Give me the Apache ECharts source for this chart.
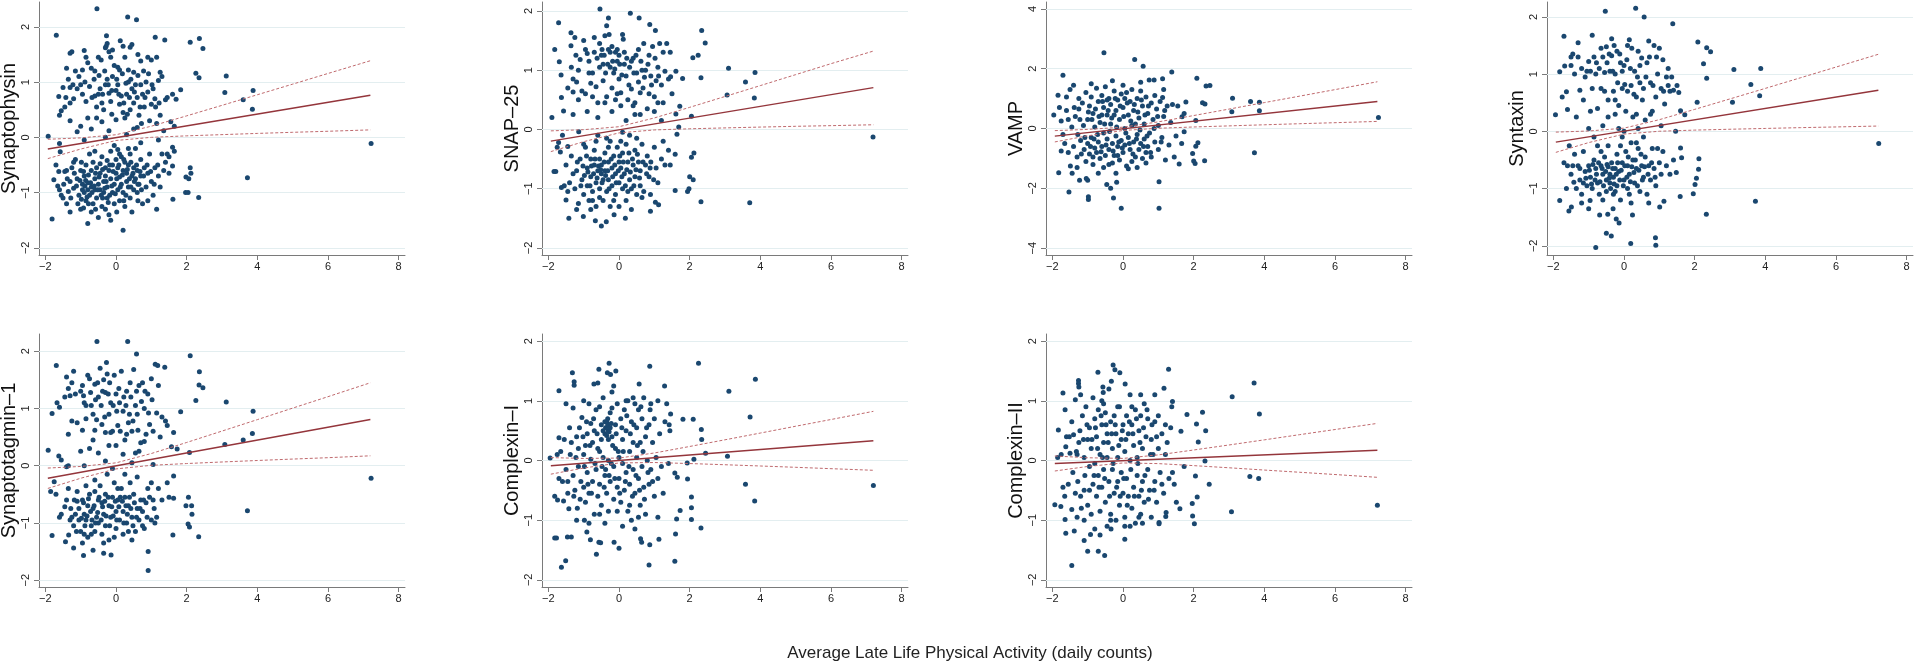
<!DOCTYPE html>
<html>
<head>
<meta charset="utf-8">
<title>Synaptic proteins vs late life physical activity</title>
<script src="https://cdn.jsdelivr.net/npm/echarts@6/dist/echarts.min.js"></script>
<style>html,body{margin:0;padding:0;background:#fff;}</style>
</head>
<body>
<div id="main" style="width:1920px;height:663px;"></div>
<script>
// tick labels
var xTicks = [-2, 0, 2, 4, 6, 8];
var yTicks2 = [-2, -1, 0, 1, 2];
var yTicks4 = [-4, -2, 0, 2, 4];

var xTitle = 'Average Late Life Physical Activity (daily counts)';
var names = ['Synaptophysin', 'SNAP–25', 'VAMP', 'Syntaxin', 'Synaptotagmin–1', 'Complexin–I', 'Complexin–II'];

// x positions where the fit / confidence lines were read
var fitX = [-1.93, 7.2];
var ciX = [-1.93, -1, 0, 1, 2, 3, 4, 5, 6, 7.2];

// fitted line (y at fitX) and CI bounds (y at ciX), one per panel
var fitY = [
  [-0.21, 0.761], [-0.198, 0.705], [-0.255, 0.899], [-0.188, 0.719],
  [-0.222, 0.807], [-0.089, 0.33], [-0.05, 0.171]
];
var ciUpper = [
  [-0.035, -0.01, 0.047, 0.202, 0.389, 0.579, 0.771, 0.963, 1.156, 1.387],
  [-0.025, -0.005, 0.045, 0.193, 0.372, 0.555, 0.739, 0.924, 1.109, 1.322],
  [-0.071, -0.03, 0.044, 0.222, 0.433, 0.649, 0.866, 1.082, 1.3, 1.563],
  [-0.013, 0.006, 0.056, 0.204, 0.384, 0.567, 0.751, 0.937, 1.123, 1.347],
  [-0.042, -0.014, 0.049, 0.212, 0.405, 0.604, 0.804, 1.005, 1.205, 1.448],
  [0.049, 0.034, 0.041, 0.126, 0.235, 0.347, 0.46, 0.574, 0.687, 0.824],
  [0.076, 0.046, 0.035, 0.094, 0.176, 0.26, 0.346, 0.433, 0.519, 0.622]
];
var ciLower = [
  [-0.385, -0.212, -0.057, 0.0, 0.027, 0.049, 0.071, 0.091, 0.11, 0.135],
  [-0.375, -0.207, -0.059, -0.009, 0.01, 0.025, 0.039, 0.052, 0.063, 0.078],
  [-0.449, -0.244, -0.066, 0.008, 0.051, 0.087, 0.124, 0.16, 0.194, 0.237],
  [-0.367, -0.196, -0.048, 0.002, 0.022, 0.037, 0.051, 0.065, 0.077, 0.093],
  [-0.398, -0.22, -0.057, 0.006, 0.037, 0.064, 0.09, 0.115, 0.139, 0.172],
  [-0.229, -0.126, -0.041, -0.034, -0.051, -0.071, -0.092, -0.114, -0.137, -0.164],
  [-0.176, -0.1, -0.041, -0.052, -0.086, -0.122, -0.16, -0.197, -0.235, -0.282]
];

// scatter points [activity, protein]
var synaptophysin = [
[-1.69,1.85],[-0.54,2.33],[0.33,2.18],[0.58,2.13],[-0.27,1.84],[1.11,1.81],[1.38,1.76],[0.12,1.75],[2.10,1.72],[2.36,1.79],[2.46,1.61],
[-1.3,1.52],[-1.25,1.55],[-1.4,1.25],[-1.35,1.05],[-1.3,0.9],[-1.15,1.2],[-0.9,1.57],[-0.95,1.22],[-0.8,1.35],[-0.7,1.25],[-0.6,1.2],[-0.5,1.45],[-0.42,1.4],[-0.3,1.62],[-0.28,1.65],[-0.25,1.7],[-0.2,1.55],[-0.1,1.58],[0.05,1.27],[0.1,1.22],[0.2,1.65],[0.4,1.63],[0.45,1.68],[0.35,1.22],[0.5,1.18],[0.7,1.38],[0.9,1.45],[1.0,1.4],[1.15,1.45],[1.2,1.03],[1.25,1.18],[1.3,1.1],[1.4,0.68],[1.45,0.72],[1.6,0.78],[1.7,0.69],
[-1.55,0.48],[-1.6,0.4],[-1.62,0.74],[-1.5,0.9],[-1.3,0.62],[-1.2,0.7],[-1.1,0.88],[-1.0,0.95],[-0.95,0.78],[-0.85,0.65],[-0.8,0.35],[-0.7,0.15],[-0.6,0.75],[-0.55,0.55],[-0.5,0.78],[-0.45,0.88],[-0.4,0.62],[-0.35,0.5],[-0.3,0.95],[-0.25,1.05],[-0.2,0.8],[-0.15,0.65],[-0.1,1.1],[0.0,0.85],[0.05,0.95],[0.1,0.6],[0.15,0.75],[0.2,0.45],[0.25,0.35],[0.3,0.78],[0.35,1.0],[0.4,0.5],[0.45,0.88],[0.5,0.62],[0.55,0.95],[0.6,0.72],[0.65,0.4],[0.7,0.95],[0.75,0.78],[0.8,0.55],[0.85,1.0],[0.9,0.82],[0.95,0.3],[1.0,0.6],[1.05,0.88],[1.1,0.7],[1.15,0.25],[1.25,0.4],[1.35,0.12],[-1.0,0.2],[-1.1,0.1],[-1.3,0.3],[-0.4,0.28],[0.0,0.32],[0.6,0.18],[1.65,0.2],[1.55,0.28],[0.5,0.15],[-0.2,0.12],
[-1.05,1.1],[-0.88,1.0],[-0.75,0.92],[-0.68,0.72],[-0.62,1.05],[-0.48,1.12],[-0.38,0.78],[-0.32,1.2],[-0.22,0.95],[-0.12,0.85],[-0.05,1.3],[0.02,1.05],[0.08,0.78],[0.18,1.15],[0.22,0.62],[0.28,0.98],[0.38,0.72],[0.42,1.05],[0.52,0.82],[0.62,1.12],[0.68,0.55],[0.78,1.2],[0.82,0.72],[0.92,1.15],[1.02,0.95],[1.12,0.55],[-0.55,0.35],[-0.12,0.42],[0.32,0.42],[0.72,0.25],[-1.42,0.72],[-1.22,0.95],[-0.85,1.45],[-0.15,1.45],[0.25,1.45],[0.62,1.5],[1.22,0.62],[-1.45,0.55],
[1.83,0.86],[2.26,1.16],[2.35,1.08],[3.12,1.11],[3.08,0.81],[3.6,0.68],[3.88,0.85],[3.86,0.51],
[-1.92,0.02],[-1.6,-0.11],[-1.58,-0.26],[-0.9,-0.05],[-0.3,0.0],[0.3,0.05],[0.7,-0.1],[1.2,-0.05],[1.6,-0.18],[1.45,-0.3],
[7.22,-0.11],[3.72,-0.73],[2.34,-1.09],[1.97,-1.0],[2.04,-1.0],[1.98,-0.72],[2.06,-0.75],[2.1,-0.55],[2.12,-0.65],[1.61,-1.12],[-1.81,-1.48],[-0.8,-1.56],[0.2,-1.68],
[-1.76,-0.77],[-1.7,-0.5],[-1.65,-0.88],[-1.55,-1.05],[-1.5,-1.1],[-1.45,-0.62],[-1.4,-1.2],[-1.35,-0.98],[-1.3,-0.8],[-1.3,-1.35],[-1.25,-0.55],[-1.2,-0.92],[-1.15,-0.4],[-1.1,-0.75],[-1.05,-1.05],[-1.0,-0.6],[-1.0,-1.3],[-0.95,-0.85],[-0.95,-0.95],[-0.9,-0.7],[-0.9,-1.0],[-0.88,-0.88],[-0.85,-0.5],[-0.85,-1.15],[-0.8,-0.82],[-0.8,-0.95],[-0.75,-0.3],[-0.75,-1.05],[-0.7,-0.6],[-0.7,-0.9],[-0.65,-0.45],[-0.65,-1.2],[-0.6,-0.75],[-0.6,-0.95],[-0.55,-0.55],[-0.55,-1.1],[-0.5,-0.85],[-0.5,-1.45],[-0.45,-0.65],[-0.45,-0.95],[-0.4,-0.35],[-0.4,-1.25],[-0.35,-0.8],[-0.35,-1.0],[-0.3,-0.55],[-0.3,-0.7],[-0.25,-0.9],[-0.25,-1.1],[-0.2,-0.6],[-0.2,-1.4],[-0.15,-0.75],[-0.15,-0.25],[-0.1,-1.0],[-0.1,-0.5],[-0.05,-0.85],[-0.05,-1.2],[0.0,-0.65],[0.0,-0.4],[0.05,-0.95],[0.05,-0.55],[0.1,-0.72],[0.1,-1.15],[0.15,-0.35],[0.15,-0.85],[0.2,-0.6],[0.2,-1.0],[0.25,-0.45],[0.25,-1.25],[0.3,-0.8],[0.3,-0.65],[0.35,-0.5],[0.35,-0.9],[0.4,-0.3],[0.4,-1.1],[0.45,-0.7],[0.5,-0.55],[0.5,-0.95],[0.55,-0.2],[0.55,-0.75],[0.6,-0.6],[0.6,-1.0],[0.65,-0.85],[0.7,-0.4],[0.7,-0.7],[0.75,-1.2],[0.8,-0.55],[0.85,-0.9],[0.9,-0.65],[0.95,-0.3],[1.0,-0.8],[1.05,-1.05],[1.1,-0.55],[1.15,-1.3],[1.2,-0.7],[1.25,-0.9],[1.35,-0.6],[1.4,-0.45],[1.5,-0.65],[1.5,-0.35],[1.6,-0.52],[1.65,-0.25],
[-1.6,-0.95],[-1.2,-0.45],[-0.92,-1.28],[-0.6,-0.25],[-0.3,-1.3],[0.1,-0.3],[0.45,-1.35],[0.9,-1.15],[1.3,-0.3],[-1.4,-0.6],[-0.7,-1.35],[-0.15,-1.5],[-0.05,-0.15],[0.35,-0.2],
[-1.12,-0.88],[-1.02,-0.78],[-0.98,-1.12],[-0.92,-0.62],[-0.86,-0.78],[-0.82,-1.08],[-0.78,-0.68],[-0.72,-0.82],[-0.68,-1.0],[-0.62,-0.88],[-0.58,-0.65],[-0.52,-0.95],[-0.48,-0.72],[-0.42,-1.05],[-0.38,-0.58],[-0.32,-0.92],[-0.28,-0.8],[-0.22,-1.18],[-0.18,-0.5],[-0.12,-0.88],[-0.08,-0.62],[-0.02,-1.02],[0.02,-0.75],[0.08,-0.5],[0.12,-0.9],[0.18,-0.68],[0.22,-0.4],[0.28,-1.05],[0.32,-0.58],[0.38,-0.75],[0.42,-0.9],[0.48,-0.65],[0.52,-0.8],[0.58,-0.5],[0.62,-0.85],[0.68,-0.62],[0.72,-0.95],[0.78,-0.7],[0.88,-0.5],[0.98,-0.62],[1.08,-0.85],[1.18,-0.5],[-1.48,-0.85],[-1.38,-0.75],[-1.28,-1.1],[-1.18,-0.65],[-1.08,-1.2],[-0.98,-0.45],[-0.78,-1.2],[-0.58,-1.3],[-0.38,-1.1],[-0.18,-1.05],[0.02,-1.35],[0.22,-1.15],[0.42,-0.45],[0.62,-1.15],[-1.62,-0.62],[-0.45,-0.48],[-0.25,-0.42],[0.05,-0.22]
];

var snap25 = [
[-1.82,1.35],[-1.71,1.8],[-1.69,1.14],[-1.64,0.92],[-1.63,0.54],[-1.57,0.31],[-1.36,1.63],[-1.36,1.41],[-1.25,1.55],[-1.35,1.05],[-1.3,0.85],[-1.3,0.63],[-1.2,0.8],[-1.15,1.0],[-1.1,1.18],[-1.05,0.65],[-1.0,1.5],[-0.95,1.35],[-0.9,1.28],[-0.85,1.15],[-0.8,0.78],[-0.75,0.55],[-0.7,1.3],[-0.65,0.72],[-0.6,0.45],[-0.55,1.45],[-0.5,1.25],[-0.45,1.1],[-0.45,0.82],[-0.4,1.58],[-0.35,1.75],[-0.3,1.35],[-0.28,1.6],[-0.25,1.05],[-0.2,1.4],[-0.2,0.7],[-0.15,0.95],[-0.1,1.3],[-0.1,0.5],[-0.05,1.15],[0.0,0.85],[0.0,1.25],[0.05,0.62],[0.1,1.6],[0.12,1.52],[0.15,1.1],[0.2,0.9],[0.25,0.5],[0.3,1.05],[0.35,0.68],[0.4,1.2],[0.45,0.45],[0.5,0.95],[0.55,1.35],[0.6,0.62],[0.65,1.0],[0.7,1.45],[0.72,0.88],[0.8,0.35],[0.85,1.25],[0.9,0.9],[0.95,1.4],[1.0,0.55],[1.05,0.82],[1.1,1.05],[1.15,1.45],[1.2,0.75],[1.25,0.45],[1.3,0.98],[1.35,1.45],[1.4,0.85],[1.5,0.6],
[-0.62,1.2],[-0.55,1.05],[-0.48,1.35],[-0.42,1.25],[-0.38,0.95],[-0.32,1.1],[-0.25,1.3],[-0.18,1.15],[-0.12,1.02],[-0.05,1.35],[0.02,1.1],[0.08,0.92],[0.15,1.3],[0.22,1.2],[0.28,0.75],[0.35,1.15],[0.42,0.95],[0.48,1.25],[0.55,0.8],[0.62,1.15],[0.68,0.7],[0.75,1.0],[0.82,1.1],[0.92,0.75],[1.02,1.2],[1.12,0.9],[1.25,1.3],[-0.85,0.95],[-0.95,0.6],[-1.15,0.5],[-0.35,0.55],[0.05,0.4],[0.45,0.25],[-1.45,0.7],[-1.22,1.25],[-0.7,1.55],[1.45,1.3],[1.1,0.45],
[-0.54,2.03],[-0.3,1.88],[0.32,1.96],[0.57,1.88],[0.87,1.77],[1.03,1.67],[2.34,1.67],[2.44,1.46],[2.09,1.21],[2.24,1.25],[2.32,0.87],[3.1,1.03],[3.58,0.8],[3.85,0.96],[3.83,0.53],[3.06,0.58],[2.05,0.22],[1.61,0.26],[1.72,0.39],[1.8,0.86],[1.61,0.98],[1.46,0.89],[-0.9,0.3],[-0.6,0.2],[-0.2,0.3],[0.2,0.15],[0.6,0.25],[1.0,0.3],[-1.3,0.25],[0.4,0.4],[-0.4,0.45],[-0.75,0.95],[-1.9,0.2],[1.2,0.15],[0.85,0.6],[-0.05,0.6],
[7.19,-0.13],[3.7,-1.24],[2.32,-1.22],[2.0,-0.8],[2.1,-0.85],[2.05,-0.47],[2.12,-0.4],[1.98,-1.0],[1.94,-1.05],[1.59,-1.03],[0.89,-1.38],[0.89,-1.1],[1.12,-1.27],[1.03,-1.23],[-0.5,-1.63],[-1.42,-1.5],[-1.01,-1.47],[-0.67,-1.54],[-0.36,-1.56],[0.18,-1.5],[-0.14,-1.44],[-1.5,-1.19],[-1.84,-0.71],[-1.79,-0.71],[-1.63,-0.98],[-1.71,-0.22],[-1.66,-0.38],[-1.45,-0.29],[-1.14,-0.04],[1.64,-0.08],[1.59,-0.42],[1.69,0.04],
[-1.5,-0.6],[-1.4,-0.9],[-1.35,-0.45],[-1.25,-1.0],[-1.2,-0.7],[-1.15,-1.25],[-1.1,-0.5],[-1.05,-0.85],[-1.0,-1.1],[-0.95,-0.3],[-0.9,-0.65],[-0.9,-0.95],[-0.85,-1.2],[-0.8,-0.5],[-0.8,-0.8],[-0.75,-1.05],[-0.7,-0.6],[-0.7,-0.35],[-0.65,-0.9],[-0.65,-1.3],[-0.6,-0.7],[-0.55,-0.5],[-0.55,-1.0],[-0.5,-0.75],[-0.5,-0.6],[-0.45,-0.85],[-0.45,-1.2],[-0.4,-0.4],[-0.4,-0.7],[-0.35,-1.05],[-0.3,-0.55],[-0.3,-0.85],[-0.25,-0.2],[-0.25,-1.3],[-0.2,-0.65],[-0.2,-0.95],[-0.15,-0.45],[-0.1,-0.75],[-0.1,-1.1],[-0.05,-0.3],[0.0,-0.55],[0.0,-0.9],[0.05,-0.65],[0.1,-1.0],[0.1,-0.4],[0.15,-0.75],[0.2,-0.25],[0.2,-1.2],[0.25,-0.55],[0.3,-0.85],[0.3,-0.1],[0.35,-1.0],[0.4,-0.6],[0.45,-0.35],[0.45,-0.8],[0.5,-1.1],[0.55,-0.55],[0.6,-0.7],[0.6,-0.95],[0.65,-0.25],[0.7,-1.05],[0.75,-0.6],[0.8,-0.45],[0.85,-0.8],[0.9,-0.55],[1.0,-0.3],[1.05,-0.65],[1.1,-0.9],[1.2,-0.5],[1.25,-0.2],[1.3,-0.6],[1.4,-0.35],[1.45,-0.6],[-1.6,-0.1],[-1.0,-0.25],[-0.6,-0.1],[0.1,-0.05],[0.5,-0.15],[-0.35,-0.15],[-1.2,-1.35],[-0.8,-1.35],[0.0,-1.3],[0.35,-1.35],[-1.75,-0.3],[-1.55,-0.95],
[-1.02,-0.62],[-0.98,-0.78],[-0.92,-0.45],[-0.88,-0.72],[-0.82,-0.95],[-0.78,-0.62],[-0.72,-0.75],[-0.68,-0.5],[-0.62,-0.82],[-0.58,-0.62],[-0.52,-0.68],[-0.48,-0.9],[-0.42,-0.55],[-0.38,-0.78],[-0.32,-0.7],[-0.28,-1.0],[-0.22,-0.5],[-0.18,-0.8],[-0.12,-0.6],[-0.08,-0.9],[-0.02,-0.7],[0.02,-0.45],[0.08,-0.8],[0.12,-0.55],[0.18,-0.95],[0.22,-0.68],[0.28,-0.4],[0.32,-0.72],[0.38,-0.5],[0.42,-0.95],[0.48,-0.68],[0.52,-0.42],[0.58,-0.82],[0.68,-0.55],[0.78,-0.75],[0.88,-0.65],[0.98,-0.85],[-1.3,-0.75],[-1.18,-0.55],[-1.08,-0.95],[-0.75,-1.2],[-0.55,-1.15],[-0.15,-1.2],[0.25,-1.05],[0.65,-1.15],[-1.45,-1.05],[-0.3,-0.3],[0.05,-0.2],[-0.65,-0.2]
];

var vamp = [
[-1.96,0.45],[-1.84,1.11],[-1.7,1.78],[-1.82,-1.48],[-1.53,-2.12],[-0.54,2.53],[0.33,2.31],[0.57,2.08],[1.38,1.89],[2.09,1.68],[2.35,1.42],[2.46,1.44],[2.25,0.86],[2.32,0.82],[2.06,0.27],[3.1,1.01],[3.08,0.56],[3.61,0.9],[3.86,0.88],[3.86,0.59],[3.72,-0.81],[7.23,0.37],[2.31,-1.08],[2.04,-1.17],[2.0,-1.09],[2.06,-0.59],[2.12,-0.48],[1.97,-0.84],[1.02,-1.78],[1.02,-2.67],[-0.05,-2.67],[-0.27,-2.32],[-0.35,-2.0],[-0.46,-1.87],[-0.98,-2.37],[-0.98,-2.28],[-1.0,-1.73],[-1.04,-1.67],[-0.18,-1.8],[-1.23,-1.73],[-1.44,-1.5],[-1.49,-1.25],[1.45,-0.95],[1.59,-1.19],[1.66,-0.5],[1.73,-0.11],[1.67,0.39],[1.73,0.5],[1.78,0.89],[1.12,1.66],[1.15,1.3],[1.12,1.04],[0.74,1.62],[0.88,1.62],
[-1.8,0.7],[-1.75,0.25],[-1.7,-0.2],[-1.65,-0.5],[-1.6,0.6],[-1.55,-0.8],[-1.5,1.3],[-1.45,0.05],[-1.4,1.45],[-1.4,-0.6],[-1.35,0.4],[-1.3,-0.95],[-1.25,1.0],[-1.2,-0.4],[-1.15,0.85],[-1.1,-0.7],[-1.05,1.2],[-1.05,-1.1],[-1.0,0.3],[-1.0,-0.5],[-0.95,0.75],[-0.95,-0.85],[-0.9,1.05],[-0.9,-0.3],[-0.85,0.5],[-0.85,-0.95],[-0.8,0.05],[-0.8,-0.65],[-0.75,1.35],[-0.75,-0.8],[-0.7,0.9],[-0.7,-0.45],[-0.65,0.2],[-0.65,-1.0],[-0.6,1.1],[-0.6,-0.6],[-0.55,0.7],[-0.55,-0.15],[-0.5,1.4],[-0.5,-0.9],[-0.45,0.45],[-0.45,-0.35],[-0.4,1.0],[-0.4,-1.2],[-0.4,-0.7],[-0.35,0.8],[-0.35,0.15],[-0.3,1.6],[-0.3,-0.5],[-0.25,1.25],[-0.25,-0.9],[-0.2,0.6],[-0.2,-0.25],[-0.15,0.95],[-0.15,-0.6],[-0.1,0.3],[-0.1,-1.05],[-0.05,1.15],[-0.05,-0.4],[0.0,0.7],[0.0,-0.8],[0.05,0.0],[0.05,-0.55],[0.1,1.2],[0.1,-1.25],[0.15,0.45],[0.15,-0.3],[0.2,0.9],[0.2,-0.7],[0.25,1.3],[0.25,0.1],[0.3,-0.45],[0.3,0.6],[0.35,-0.95],[0.4,1.0],[0.4,-0.2],[0.45,0.35],[0.45,-0.7],[0.5,1.25],[0.5,-0.5],[0.55,0.75],[0.55,-1.0],[0.6,0.15],[0.6,-0.35],[0.65,1.05],[0.65,-0.8],[0.7,0.5],[0.7,-0.6],[0.75,-0.15],[0.8,0.85],[0.8,-0.95],[0.85,0.3],[0.9,-0.45],[0.9,1.1],[0.95,0.65],[1.0,-0.7],[1.0,0.1],[1.05,0.9],[1.1,-0.3],[1.15,0.4],[1.2,-1.05],[1.25,0.75],[1.3,-0.55],[1.35,0.2],[1.4,0.8],[1.5,-0.25],[1.55,0.75],[-1.25,0.65],[-0.9,1.5],[-0.55,-1.3],[-0.2,-1.5],[0.15,-1.35],[0.5,1.55],[-1.3,-1.3],[-0.7,-1.5],[0.4,-1.3],[-0.85,-1.2],[-0.3,-1.15],[0.0,1.45],[-1.6,1.05],[-1.75,-0.75],
[-0.88,0.3],[-0.82,-0.35],[-0.78,0.65],[-0.72,-0.2],[-0.68,0.4],[-0.62,-0.78],[-0.58,0.9],[-0.52,0.15],[-0.48,-0.55],[-0.42,0.6],[-0.38,-0.1],[-0.32,0.35],[-0.28,-0.75],[-0.22,1.0],[-0.18,0.05],[-0.12,-0.45],[-0.08,0.75],[-0.02,-0.65],[0.02,0.4],[0.08,-0.15],[0.12,0.85],[0.18,-0.5],[0.22,0.25],[0.28,-0.85],[0.32,0.8],[0.38,-0.35],[0.42,0.55],[0.48,-0.05],[0.52,0.95],[0.58,-0.6],[0.62,0.45],[0.68,-0.25],[0.72,0.75],[0.78,-0.8],[0.88,0.0],[0.98,0.4],[-1.12,0.1],[-1.08,-0.3],[-0.98,0.55],[-0.92,-0.6],[-1.22,0.3],[-1.28,-0.2],[-1.38,0.7],[-1.18,-0.85],[0.05,1.0],[-0.25,0.45],[-0.45,0.95],[0.25,-1.1],[0.65,-1.15],[-0.6,0.45],[1.18,0.6],[1.08,-0.45],[-1.55,0.3],[-0.15,-0.9],[0.35,0.15]
];

var syntaxin = [
[-1.94,0.29],[-1.82,1.04],[-1.7,1.66],[-1.68,1.14],[-1.63,0.69],[-1.82,-1.21],[-0.8,-2.03],[-0.5,-1.78],[-0.36,-1.83],[-0.53,2.1],[0.33,2.15],[0.57,2.0],[1.38,1.88],[0.19,-1.96],[0.89,-1.86],[0.9,-1.99],[2.09,1.56],[2.34,1.46],[2.45,1.39],[2.25,1.18],[2.34,0.93],[2.07,0.51],[3.11,1.08],[3.07,0.51],[3.59,0.82],[3.87,1.1],[3.84,0.62],[3.72,-1.22],[7.21,-0.21],[2.33,-1.45],[2.12,-0.48],[2.11,-0.66],[2.05,-0.82],[2.01,-0.93],[1.96,-1.09],[1.59,-1.14],[1.6,-0.29],[1.63,-0.46],[1.46,0.0],[1.72,0.29],[1.6,0.36],[1.48,-0.72],[1.13,-1.22],[1.01,-1.32],[0.24,-1.46],[-0.69,-1.46],[-0.46,-1.45],[-0.31,-1.35],[-0.14,-1.6],[-0.22,-1.53],[-1.56,-1.39],[-1.42,-0.89],[-1.49,-1.32],[-1.0,-1.35],[-0.96,-1.21],[-1.63,-1.0],
[-1.5,1.3],[-1.45,1.35],[-1.4,1.0],[-1.3,1.55],[-1.25,0.72],[-1.2,1.1],[-1.1,0.95],[-1.05,1.05],[-1.0,1.22],[-0.95,0.35],[-0.9,0.75],[-0.9,1.68],[-0.85,1.3],[-0.8,1.0],[-0.75,0.4],[-0.7,1.1],[-0.65,0.75],[-0.6,1.3],[-0.55,1.03],[-0.5,1.48],[-0.45,0.55],[-0.4,1.05],[-0.35,1.62],[-0.35,1.32],[-0.3,0.7],[-0.25,1.0],[-0.25,0.3],[-0.2,1.4],[-0.15,0.45],[-0.1,1.2],[-0.05,0.75],[0.0,1.15],[0.05,0.35],[0.1,1.5],[0.1,0.7],[0.15,1.6],[0.2,0.8],[0.25,0.25],[0.3,1.05],[0.35,0.6],[0.4,1.4],[0.45,0.85],[0.5,1.28],[0.55,0.75],[0.6,0.2],[0.65,1.2],[0.7,1.58],[0.75,0.85],[0.8,0.35],[0.85,1.5],[0.9,0.6],[0.95,1.0],[1.0,1.45],[1.05,0.75],[1.1,1.25],[1.15,0.48],[1.2,0.95],[1.25,1.1],[1.3,0.7],[1.4,0.72],[1.5,0.8],[1.55,0.68],[-1.35,0.25],[-0.6,0.1],[0.0,0.0],[0.4,0.05],[-1.0,0.05],[-1.6,0.38],[-0.15,0.05],[0.75,0.3],[1.05,0.1],[-0.45,0.25],[-1.75,0.6],[1.35,0.95],
[-0.95,1.05],[-0.78,1.2],[-0.65,1.45],[-0.55,0.7],[-0.48,1.2],[-0.42,1.35],[-0.32,1.05],[-0.28,1.5],[-0.18,0.85],[-0.12,1.35],[-0.05,1.05],[0.02,0.82],[0.08,1.25],[0.18,1.1],[0.22,1.45],[0.28,0.65],[0.38,0.95],[0.45,1.15],[0.52,0.55],[0.62,0.95],[0.72,1.3],[0.82,0.8],[0.92,1.3],[1.12,0.7],[1.25,0.8],[-1.3,1.3],[-1.15,0.55],[-1.5,1.15],[0.35,0.3],[-0.25,0.55],
[-1.7,-0.55],[-1.6,-0.6],[-1.5,-0.75],[-1.4,-0.4],[-1.35,-1.0],[-1.3,-0.6],[-1.25,-0.85],[-1.2,-1.1],[-1.15,-0.35],[-1.1,-0.7],[-1.05,-0.95],[-1.0,-0.6],[-0.95,-0.8],[-0.9,-1.0],[-0.85,-0.5],[-0.8,-0.65],[-0.75,-0.9],[-0.7,-1.1],[-0.65,-0.6],[-0.6,-0.75],[-0.55,-0.45],[-0.5,-0.85],[-0.5,-1.05],[-0.45,-0.62],[-0.4,-0.75],[-0.4,-0.9],[-0.35,-0.55],[-0.3,-0.8],[-0.3,-1.1],[-0.25,-0.65],[-0.2,-0.4],[-0.2,-0.95],[-0.15,-0.7],[-0.1,-0.25],[-0.1,-1.2],[-0.05,-0.55],[0.0,-0.85],[0.05,-0.35],[0.1,-0.6],[0.1,-1.0],[0.15,-0.75],[0.2,-0.2],[0.25,-0.5],[0.3,-0.9],[0.35,-0.65],[0.4,-0.3],[0.45,-1.05],[0.5,-0.6],[0.55,-0.8],[0.6,-0.45],[0.65,-1.1],[0.7,-0.6],[0.75,-0.85],[0.8,-0.3],[0.85,-0.65],[0.9,-0.95],[1.0,-0.55],[1.05,-0.75],[1.1,-0.35],[1.2,-0.6],[1.3,-0.75],[1.4,-0.5],[-1.55,-0.25],[-0.75,-0.25],[0.55,-0.1],[-1.2,-1.25],[-0.6,-1.2],[0.2,-1.25],[0.7,-1.25],[-0.05,-0.1],[-0.85,-0.1],
[-1.08,-0.82],[-0.98,-0.68],[-0.92,-0.92],[-0.88,-0.58],[-0.82,-0.85],[-0.78,-0.75],[-0.72,-0.55],[-0.68,-0.88],[-0.62,-0.65],[-0.58,-0.95],[-0.52,-0.7],[-0.48,-0.58],[-0.42,-0.82],[-0.38,-1.0],[-0.32,-0.65],[-0.28,-0.92],[-0.22,-0.75],[-0.18,-0.55],[-0.12,-0.85],[-0.08,-0.68],[-0.02,-0.95],[0.02,-0.6],[0.08,-0.8],[0.12,-0.45],[0.18,-0.88],[0.22,-0.62],[0.28,-0.72],[0.32,-0.5],[0.38,-0.95],[0.42,-0.68],[0.48,-0.4],[0.52,-0.85],[0.58,-0.62],[0.68,-0.75],[0.78,-0.55],[0.88,-0.8],[-1.25,-0.65],[-1.15,-0.9],[-1.45,-0.6],[-0.65,-0.35],[-0.25,-1.05],[0.15,-1.1],[-0.45,-0.25],[0.35,-0.2],[0.95,-0.3]
];

var synaptotagmin = [
[-1.92,0.27],[-1.81,0.91],[-1.69,1.75],[-1.67,1.1],[-1.62,0.17],[-1.81,-1.22],[-0.54,2.17],[0.33,2.17],[0.58,1.95],[-0.27,1.8],[1.11,1.77],[1.18,1.75],[1.38,1.72],[2.1,1.92],[2.36,1.64],[2.35,1.41],[2.46,1.36],[2.26,1.14],[1.83,0.94],[3.12,1.11],[3.08,0.37],[3.6,0.45],[3.88,0.95],[3.86,0.56],[3.72,-0.79],[7.22,-0.22],[2.34,-1.24],[2.08,0.23],[2.05,-0.55],[2.14,-0.7],[2.08,-1.07],[2.04,-1.02],[2.15,-0.85],[1.98,-0.7],[1.61,-1.21],[1.63,-0.57],[1.63,-0.18],[1.57,0.33],[1.73,0.29],[1.63,0.58],[-0.65,-1.48],[-0.92,-1.57],[-0.35,-1.53],[-0.14,-1.56],[0.91,-1.5],[0.91,-1.83],[-1.43,-1.33],[-1.2,-1.44],[-1.34,-1.21],
[-1.6,1.02],[-1.4,1.55],[-1.35,1.35],[-1.3,1.22],[-1.25,1.45],[-1.2,1.65],[-1.1,0.75],[-1.0,1.3],[-0.95,1.4],[-0.9,1.1],[-0.85,0.82],[-0.8,1.58],[-0.75,1.52],[-0.7,1.05],[-0.65,0.45],[-0.6,1.42],[-0.55,0.8],[-0.5,1.2],[-0.45,1.7],[-0.4,0.72],[-0.35,1.5],[-0.3,1.28],[-0.25,1.6],[-0.2,0.9],[-0.15,1.1],[-0.1,0.6],[-0.05,1.58],[0.0,1.25],[0.05,0.7],[0.1,1.1],[0.15,1.65],[0.2,0.95],[0.25,0.45],[0.3,1.3],[0.35,0.75],[0.4,1.45],[0.45,0.6],[0.5,1.68],[0.55,1.05],[0.6,0.9],[0.65,1.4],[0.7,0.4],[0.75,1.45],[0.8,1.0],[0.85,0.55],[0.9,1.25],[0.95,0.72],[1.0,1.52],[1.05,0.6],[1.15,0.92],[1.2,1.4],[1.25,0.5],[1.3,0.85],[1.4,0.78],[1.45,0.7],[-1.35,0.55],[-1.0,0.25],[-0.75,0.3],[-0.5,0.22],[-0.3,0.58],[0.0,0.35],[0.2,0.2],[0.45,0.05],[0.55,0.22],[0.8,0.42],[1.05,0.02],[-1.25,0.78],[-0.95,0.62],[-0.6,0.62],[-0.15,0.58],[0.3,0.55],[-1.55,0.1],[-1.35,0.0],[-0.9,0.0],[-0.3,0.08],
[-0.92,1.22],[-0.85,1.05],[-0.72,1.28],[-0.65,0.9],[-0.58,1.15],[-0.52,1.45],[-0.42,1.05],[-0.38,1.3],[-0.32,0.85],[-0.22,1.25],[-0.18,1.45],[-0.08,1.05],[0.02,0.95],[0.08,1.35],[0.12,0.6],[0.22,1.2],[0.28,1.05],[0.38,0.9],[0.42,1.2],[0.48,0.78],[0.58,1.3],[0.62,0.62],[0.72,1.12],[0.82,1.3],[0.92,0.92],[1.02,1.15],[-1.15,1.25],[-1.45,1.2],[-0.2,0.35],[0.65,0.25],
[-1.85,-0.45],[-1.75,-0.28],[-1.7,-0.5],[-1.6,-0.9],[-1.55,-0.85],[-1.45,-0.72],[-1.4,-0.6],[-1.35,-0.4],[-1.3,-0.95],[-1.25,-0.9],[-1.2,-1.05],[-1.15,-0.85],[-1.1,-0.62],[-1.05,-0.95],[-1.0,-1.15],[-0.95,-0.6],[-0.9,-1.2],[-0.9,-0.85],[-0.85,-0.95],[-0.8,-0.7],[-0.8,-1.25],[-0.75,-0.5],[-0.7,-1.05],[-0.65,-0.75],[-0.6,-0.45],[-0.6,-1.15],[-0.55,-0.9],[-0.5,-0.6],[-0.5,-1.0],[-0.45,-0.35],[-0.4,-0.65],[-0.4,-1.2],[-0.35,-0.85],[-0.3,-0.5],[-0.3,-1.05],[-0.25,-0.15],[-0.2,-0.7],[-0.2,-1.3],[-0.15,-0.9],[-0.1,-0.55],[-0.05,-0.3],[0.0,-0.8],[0.0,-1.1],[0.05,-0.6],[0.1,-0.95],[0.15,-0.4],[0.2,-0.8],[0.2,-1.2],[0.25,-0.55],[0.3,-1.0],[0.35,-0.7],[0.4,-0.3],[0.45,-0.9],[0.5,-0.5],[0.55,-1.15],[0.6,-0.75],[0.65,-0.95],[0.7,-0.6],[0.75,-0.8],[0.8,-1.1],[0.85,-0.65],[0.9,-0.4],[0.95,-0.55],[1.0,-0.95],[1.05,-0.6],[1.1,-1.0],[1.15,-0.9],[1.2,-0.4],[1.3,-0.6],[1.45,-0.3],[1.5,-0.55],[-1.4,-0.02],[-1.1,-0.45],[-0.6,-0.25],[0.6,-0.2],[1.0,-0.3],[-0.95,-1.35],[-0.35,-1.35],[0.45,-1.3],[-0.1,-0.05],[0.25,-0.15],
[-1.05,-0.75],[-0.98,-0.92],[-0.92,-0.65],[-0.88,-1.05],[-0.82,-0.88],[-0.78,-0.58],[-0.72,-0.8],[-0.68,-0.95],[-0.62,-0.7],[-0.58,-1.0],[-0.52,-0.82],[-0.48,-0.55],[-0.42,-0.95],[-0.38,-0.72],[-0.32,-0.62],[-0.28,-0.88],[-0.22,-0.55],[-0.18,-1.05],[-0.12,-0.72],[-0.08,-0.88],[-0.02,-0.62],[0.02,-0.95],[0.08,-0.72],[0.12,-0.55],[0.18,-0.62],[0.22,-1.0],[0.28,-0.7],[0.32,-0.85],[0.38,-0.55],[0.42,-0.75],[0.48,-1.05],[0.52,-0.65],[0.58,-0.9],[0.68,-0.75],[0.78,-0.6],[0.88,-0.9],[1.08,-0.75],[-1.28,-0.75],[-1.18,-0.6],[-1.12,-1.15],[-0.7,-1.2],[-0.05,-1.25],[0.35,-1.15],[0.75,-1.05],[-0.85,-0.35],[0.05,-0.4]
];

var complexin1 = [
[-1.95,0.04],[-1.7,1.17],[-1.32,1.47],[-1.27,1.32],[-1.27,1.26],[-1.7,0.38],[-1.82,-1.3],[-1.77,-1.3],[-1.63,-1.79],[-1.51,-1.68],[-1.46,-1.28],[-1.35,-1.28],[-1.82,-0.6],[-1.74,-0.66],[-1.57,-0.68],[-1.42,-0.81],[-0.64,-1.57],[-0.71,1.28],[-0.57,1.53],[-0.28,1.63],[-0.33,1.47],[-0.24,1.44],[-0.09,1.5],[0.87,1.58],[0.57,1.28],[1.29,1.25],[2.25,1.63],[3.11,1.16],[3.86,1.36],[3.71,0.73],[3.07,0.07],[3.58,-0.4],[3.84,-0.68],[7.2,-0.42],[2.32,-1.13],[2.33,0.52],[2.34,0.35],[2.45,0.12],[2.1,0.69],[1.81,0.69],[2.12,0.02],[2.05,-0.99],[2.05,-0.79],[2.05,-0.61],[1.94,-0.31],[1.93,-0.04],[1.6,-1.23],[1.58,-1.69],[0.85,-1.75],[0.87,-1.41],[0.61,-1.31],[0.64,-1.37],[1.13,-1.32],[1.1,-0.95],[1.63,-0.98],[1.73,-0.84],[1.65,-0.28],[1.58,-0.21],[1.46,0.78],[1.42,0.6],[1.44,0.5],[0.0,-1.47],[-0.14,-1.37],[-0.57,-1.37],[-0.52,-1.38],[-0.91,-1.2],[-0.81,-1.33],[-0.98,-1.0],
[-1.75,0.1],[-1.7,-0.3],[-1.65,0.15],[-1.6,-0.35],[-1.55,0.35],[-1.5,-0.15],[-1.45,-0.55],[-1.4,0.55],[-1.35,0.3],[-1.3,-0.25],[-1.3,0.88],[-1.25,-0.5],[-1.2,0.4],[-1.15,-0.1],[-1.15,0.2],[-1.1,-0.65],[-1.05,0.72],[-1.0,0.1],[-1.0,-0.45],[-0.95,0.25],[-0.95,-0.7],[-0.9,0.45],[-0.9,-0.2],[-0.85,0.95],[-0.85,-0.55],[-0.8,0.02],[-0.8,0.62],[-0.75,-0.35],[-0.75,0.3],[-0.7,-0.9],[-0.7,0.5],[-0.65,0.85],[-0.65,-0.15],[-0.6,-0.6],[-0.6,0.2],[-0.55,0.9],[-0.55,-0.4],[-0.5,0.6],[-0.5,-0.75],[-0.45,0.05],[-0.45,1.05],[-0.4,0.45],[-0.4,-0.25],[-0.35,0.65],[-0.35,-0.55],[-0.3,0.5],[-0.3,0.0],[-0.3,-0.85],[-0.25,0.8],[-0.25,-0.35],[-0.2,0.4],[-0.2,1.15],[-0.15,-0.1],[-0.15,-0.65],[-0.1,0.6],[-0.1,0.2],[-0.05,-0.45],[-0.05,0.95],[0.0,0.05],[0.0,-0.3],[0.05,0.7],[0.05,-0.7],[0.1,0.35],[0.1,-0.05],[0.15,0.85],[0.15,-0.5],[0.2,0.5],[0.2,-0.2],[0.25,1.0],[0.25,-0.85],[0.3,0.15],[0.3,-0.4],[0.35,0.65],[0.35,-1.0],[0.4,0.3],[0.4,-0.15],[0.45,0.95],[0.45,-0.55],[0.5,0.55],[0.5,0.05],[0.55,-0.3],[0.55,0.85],[0.6,-0.75],[0.6,0.3],[0.65,0.7],[0.65,-0.1],[0.7,-0.45],[0.7,1.05],[0.75,0.4],[0.75,-0.9],[0.8,0.0],[0.85,0.6],[0.85,-0.4],[0.9,0.95],[0.9,-0.15],[0.95,0.3],[1.0,-0.6],[1.0,0.7],[1.05,0.05],[1.1,-0.3],[1.1,1.0],[1.15,0.45],[1.2,-0.1],[1.25,-0.55],[1.3,0.65],[1.35,0.95],[1.4,-0.05],[-1.2,-1.0],[-0.85,-1.05],[-0.4,-1.05],[0.1,-1.1],[0.45,-1.15],[-1.0,1.0],[-0.15,1.25],[0.4,1.05],[-1.5,0.95],[-0.6,1.3],
[-0.38,0.55],[-0.35,0.42],[-0.32,0.6],[-0.3,0.35],[-0.28,0.48],[-0.25,0.55],[-0.22,0.62],[-0.32,0.7],[-0.4,0.65],[-0.45,0.5],[-0.5,0.35],[-0.55,0.15],[-0.48,-0.1],[-0.42,-0.45],[-0.38,-0.15],[-0.28,-0.25],[-0.22,-0.05],[-0.18,0.25],[-0.12,-0.3],[-0.08,0.45],[-0.02,0.15],[0.02,-0.55],[0.08,0.55],[0.12,0.15],[0.18,-0.35],[0.22,0.75],[0.28,-0.1],[0.32,0.45],[0.38,-0.6],[0.42,0.6],[0.48,-0.25],[0.52,0.25],[0.58,-0.5],[0.62,0.9],[0.68,0.15],[0.72,-0.65],[0.78,0.55],[0.82,-0.2],[0.88,0.85],[0.95,-0.35],[-0.62,0.45],[-0.68,-0.05],[-0.72,0.7],[-0.78,-0.55],[-0.82,0.25],[-0.88,-0.4],[-0.92,0.65],[-0.98,-0.1],[-1.02,0.4],[-1.08,-0.35],[-1.12,0.55],[-1.18,-0.8],[-1.22,0.05],[-1.28,-0.6],[-1.38,0.1],[-1.45,-0.35],[-0.55,-0.9],[-0.05,-0.85],[0.3,-0.75],[0.55,-0.95],[-0.2,0.88],[0.2,1.0]
];

var complexin2 = [
[-1.93,-0.74],[-1.83,0.51],[-1.7,1.13],[-1.64,0.85],[-1.62,0.23],[-1.76,-0.77],[-1.64,-0.99],[-1.62,-1.22],[-1.45,-1.76],[-1.38,-1.18],[-1.35,1.02],[-1.26,1.34],[-1.26,1.29],[-1.25,1.23],[-1.1,-1.34],[-1.0,-1.52],[-0.7,-1.52],[-0.52,-1.59],[-0.92,-1.24],[-0.65,-1.25],[-0.71,1.48],[-0.57,1.23],[-0.56,1.14],[-0.33,1.33],[-0.28,1.6],[-0.23,1.52],[-0.09,1.47],[0.06,1.28],[1.29,1.53],[1.16,1.21],[0.05,-1.32],[-0.34,-1.15],[3.09,1.07],[3.71,1.3],[3.86,0.78],[3.59,-0.27],[3.84,-0.3],[3.07,-0.86],[7.2,-0.75],[2.25,0.81],[2.34,0.5],[2.32,-0.01],[2.44,-0.4],[2.08,0.61],[2.13,0.31],[2.05,-0.26],[2.1,-0.61],[1.96,-0.72],[1.97,-0.93],[2.02,-1.06],[1.81,0.77],[1.64,0.49],[1.61,-0.81],[1.51,-0.7],[1.21,-0.94],[1.22,-0.87],[1.02,-1.04],[1.02,-1.06],[1.73,-0.1],[1.38,0.9],[1.4,0.99],
[-1.85,0.05],[-1.75,0.1],[-1.7,-0.45],[-1.65,-0.6],[-1.6,0.4],[-1.55,-0.4],[-1.5,0.12],[-1.45,-0.82],[-1.4,0.43],[-1.35,-0.55],[-1.3,0.1],[-1.3,-0.95],[-1.25,0.3],[-1.2,-0.6],[-1.15,0.75],[-1.1,-0.5],[-1.1,0.05],[-1.05,0.9],[-1.0,-0.75],[-1.0,0.35],[-0.95,-0.1],[-0.95,0.55],[-0.9,-0.9],[-0.9,0.2],[-0.85,1.05],[-0.85,-0.4],[-0.8,0.7],[-0.8,-0.05],[-0.75,0.4],[-0.75,-0.6],[-0.7,0.85],[-0.7,-0.25],[-0.65,0.1],[-0.65,-0.85],[-0.6,0.6],[-0.6,-0.45],[-0.55,0.3],[-0.55,-0.15],[-0.5,0.8],[-0.5,-0.7],[-0.45,0.45],[-0.45,0.05],[-0.4,-0.35],[-0.4,1.2],[-0.35,0.65],[-0.35,-0.9],[-0.3,0.2],[-0.3,-0.15],[-0.25,0.75],[-0.25,-0.55],[-0.2,0.45],[-0.2,-1.0],[-0.15,0.05],[-0.15,-0.35],[-0.1,0.9],[-0.1,-0.75],[-0.05,0.35],[-0.05,-0.2],[0.0,0.6],[0.0,-0.55],[0.05,0.15],[0.05,-0.95],[0.1,0.75],[0.1,-0.3],[0.15,0.45],[0.15,-0.6],[0.2,1.1],[0.2,0.0],[0.25,-0.8],[0.25,0.6],[0.3,0.25],[0.3,-0.45],[0.35,0.85],[0.35,-1.05],[0.4,0.05],[0.4,-0.25],[0.45,0.5],[0.45,-0.6],[0.5,0.75],[0.5,-0.9],[0.55,0.2],[0.55,-0.35],[0.6,0.95],[0.6,-0.7],[0.65,0.4],[0.7,-0.15],[0.7,0.7],[0.75,-0.5],[0.8,0.35],[0.8,-0.95],[0.85,0.1],[0.9,0.65],[0.9,-0.35],[0.95,-0.7],[1.0,0.2],[1.0,0.75],[1.05,-0.2],[1.1,0.45],[1.15,-0.55],[1.2,0.1],[1.25,0.3],[1.3,-0.3],[1.35,0.55],[1.4,-0.2],[1.45,-0.4],[-1.2,1.1],[-0.6,1.0],[0.5,1.1],[0.9,1.1],[-1.45,0.65],[-1.1,-1.0],[-0.45,-1.1],[0.55,-1.05],[-0.8,-1.15],[0.2,-1.1],
[-0.88,0.35],[-0.82,-0.25],[-0.78,0.55],[-0.72,0.2],[-0.68,-0.45],[-0.62,0.75],[-0.58,0.05],[-0.52,-0.3],[-0.48,0.6],[-0.42,0.3],[-0.38,-0.6],[-0.32,0.45],[-0.28,-0.05],[-0.22,0.6],[-0.18,-0.45],[-0.12,0.25],[-0.08,-0.6],[-0.02,0.5],[0.02,-0.3],[0.08,0.35],[0.12,-0.75],[0.18,0.65],[0.22,-0.15],[0.28,0.45],[0.32,-0.6],[0.38,0.7],[0.42,-0.05],[0.48,0.3],[0.52,-0.5],[0.58,0.55],[0.62,-0.25],[0.68,0.85],[0.72,-0.65],[0.78,0.1],[0.82,0.6],[0.88,-0.5],[0.95,0.4],[-0.95,-0.5],[-1.02,0.6],[-1.08,-0.25],[-1.12,0.35],[-1.18,-0.8],[-1.22,0.5],[-1.28,-0.35],[-1.32,0.15],[-1.42,-0.2],[-1.52,0.4],[-0.55,0.95],[-0.15,0.9],[0.25,0.9],[-0.35,-1.0],[0.05,-1.1],[0.45,-0.95],[1.1,-0.4],[1.2,0.6]
];

var panelData = [synaptophysin, snap25, vamp, syntaxin, synaptotagmin, complexin1, complexin2];

// panel layout (pixels) and y-axis extents
var layout = [
  {left: 39,   top: 2,   yMin: -2.13, yMax: 2.45, ticks: yTicks2},
  {left: 542,  top: 2,   yMin: -2.12, yMax: 2.15, ticks: yTicks2},
  {left: 1046, top: 2,   yMin: -4.23, yMax: 4.23, ticks: yTicks4},
  {left: 1547, top: 2,   yMin: -2.16, yMax: 2.26, ticks: yTicks2},
  {left: 39,   top: 334, yMin: -2.12, yMax: 2.30, ticks: yTicks2},
  {left: 542,  top: 334, yMin: -2.12, yMax: 2.12, ticks: yTicks2},
  {left: 1046, top: 334, yMin: -2.12, yMax: 2.12, ticks: yTicks2}
];

var FONT = '"Liberation Sans", Arial, sans-serif';
var AXIS = '#7a7a7a';
var grids = [], xAxes = [], yAxes = [], series = [];

function minusSign(v) { return String(v).replace('-', '\u2212'); }

layout.forEach(function (p, i) {
  grids.push({left: p.left, top: p.top, width: 366, height: 253, outerBoundsMode: 'none'});
  xAxes.push({
    type: 'value', gridIndex: i, min: -2.18, max: 8.18,
    axisLine: {show: true, onZero: false, lineStyle: {color: AXIS, width: 1}},
    axisTick: {show: true, inside: false, length: 5, customValues: xTicks, lineStyle: {color: AXIS}},
    axisLabel: {customValues: xTicks, fontSize: 11, color: '#222', margin: 6, fontFamily: FONT, formatter: minusSign},
    splitLine: {show: false}
  });
  yAxes.push({
    type: 'value', gridIndex: i, min: p.yMin, max: p.yMax,
    name: names[i], nameLocation: 'middle', nameGap: 18, nameRotate: 90,
    nameTextStyle: {fontSize: 20, color: '#111', fontFamily: FONT},
    axisLine: {show: true, onZero: false, lineStyle: {color: AXIS, width: 1}},
    axisTick: {show: true, inside: false, length: 5, customValues: p.ticks, lineStyle: {color: AXIS}},
    axisLabel: {customValues: p.ticks, rotate: 90, fontSize: 11, color: '#222', margin: 8, fontFamily: FONT, formatter: minusSign},
    splitLine: {show: false}
  });
  // horizontal grid lines at the y ticks, kept under the dots
  series.push({
    type: 'line', xAxisIndex: i, yAxisIndex: i, data: [], silent: true, z: 1,
    markLine: {
      z: 1, silent: true, symbol: ['none', 'none'], label: {show: false},
      lineStyle: {color: '#e3eef0', width: 1, type: 'solid'},
      data: p.ticks.map(function (v) { return {yAxis: v}; })
    }
  });
  series.push({
    type: 'scatter', xAxisIndex: i, yAxisIndex: i, z: 3,
    symbol: 'circle', symbolSize: 5,
    itemStyle: {color: '#1a476f', opacity: 1},
    data: panelData[i]
  });
  series.push({
    type: 'line', xAxisIndex: i, yAxisIndex: i, z: 4, showSymbol: false, silent: true,
    lineStyle: {color: '#c06a6e', width: 1, type: [3, 2]},
    data: ciX.map(function (x, k) { return [x, ciUpper[i][k]]; })
  });
  series.push({
    type: 'line', xAxisIndex: i, yAxisIndex: i, z: 4, showSymbol: false, silent: true,
    lineStyle: {color: '#c06a6e', width: 1, type: [3, 2]},
    data: ciX.map(function (x, k) { return [x, ciLower[i][k]]; })
  });
  series.push({
    type: 'line', xAxisIndex: i, yAxisIndex: i, z: 5, showSymbol: false, silent: true,
    lineStyle: {color: '#94353b', width: 1.5},
    data: fitX.map(function (x, k) { return [x, fitY[i][k]]; })
  });
});

var myChart = echarts.init(document.getElementById('main'), null, {renderer: 'canvas'});
myChart.setOption({
  animation: false,
  backgroundColor: '#ffffff',
  grid: grids,
  xAxis: xAxes,
  yAxis: yAxes,
  series: series,
  graphic: [{
    type: 'text', x: 970, y: 653,
    style: {text: xTitle, font: '17px ' + FONT, fill: '#222', align: 'center', verticalAlign: 'middle'}
  }]
});
</script>
</body>
</html>
